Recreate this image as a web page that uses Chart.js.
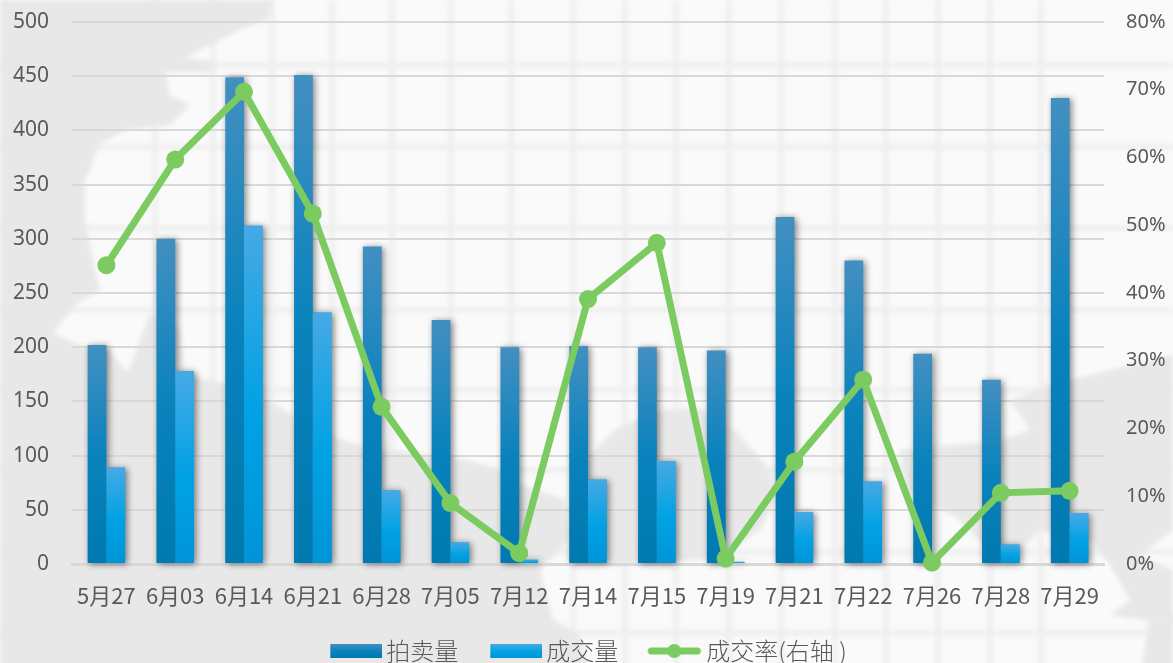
<!DOCTYPE html>
<html lang="zh">
<head>
<meta charset="utf-8">
<title>拍卖量与成交率</title>
<script src="https://cdn.jsdelivr.net/npm/chart.js@4"></script>
<style>
html,body{margin:0;padding:0;background:#e8e8e8;overflow:hidden}
#wrap{width:1173px;height:663px;overflow:hidden;position:relative}
canvas{display:block}
</style>
</head>
<body>
<div id="wrap"><canvas id="c" width="1173" height="673"></canvas></div>
<script>
const categories = ['5月27','6月03','6月14','6月21','6月28','7月05','7月12','7月14','7月15','7月19','7月21','7月22','7月26','7月28','7月29'];
const auctionCount = [202,300,449,451,293,225,200,201,200,197,320,280,194,170,430];
const dealCount = [89,178,312,232,68,20,4,78,95,2,48,76,0,18,47];
const dealRate = [44.1,59.7,69.7,51.7,23.2,9.0,1.6,39.1,47.4,0.8,15.1,27.2,0.2,10.5,10.8];
const seriesNames = ['拍卖量','成交量','成交率(右轴 )'];
const leftTicks = [0,50,100,150,200,250,300,350,400,450,500];
const rightTicks = [0,10,20,30,40,50,60,70,80];

const GREEN = '#7bcb61';
const TEXT = '#595959';
const DARK_STOPS = [[0,'#438fc1'],[0.5,'#0a83bd'],[1,'#0079b0']];
const LIGHT_STOPS = [[0,'#46a9e5'],[0.55,'#00a2e4'],[1,'#0094d8']];

function fillGrad(g, stops){ stops.forEach(s => g.addColorStop(s[0], s[1])); return g; }
function barFill(stops){
  return function(ctx){
    if (ctx.raw === undefined || !ctx.chart.scales.y) return stops[1][1];
    const s = ctx.chart.scales.y;
    const g = ctx.chart.ctx.createLinearGradient(0, s.getPixelForValue(ctx.raw), 0, s.getPixelForValue(0));
    return fillGrad(g, stops);
  };
}
function swatch(draw){
  const cv = document.createElement('canvas');
  cv.width = 82; cv.height = 20;
  draw(cv.getContext('2d'));
  return cv;
}
function rectSwatch(stops){
  return swatch(c => {
    c.fillStyle = fillGrad(c.createLinearGradient(0,3,0,17), stops);
    c.fillRect(30,3,52,14);
  });
}
const lineSwatch = swatch(c => {
  c.strokeStyle = GREEN; c.lineWidth = 7; c.lineCap = 'round';
  c.beginPath(); c.moveTo(31,10); c.lineTo(77,10); c.stroke();
  c.fillStyle = GREEN; c.beginPath(); c.arc(54,10,7,0,Math.PI*2); c.fill();
});

const backdrop = {
  id:'backdrop',
  beforeDraw(chart){
    const c = chart.ctx, W = chart.width, H = chart.height;
    c.save();
    c.fillStyle = '#fafafa'; c.fillRect(0,0,W,H);
    c.filter = 'blur(2px)';
    c.strokeStyle = '#efefef'; c.lineWidth = 5;
    [155,213,272,332,392,451,511,573,625,676,729,781,835,886,938,990,1041].forEach(x => {
      c.beginPath(); c.moveTo(x,0); c.lineTo(x,H); c.stroke();
    });
    [65,147,228,310,390,470,552,633].forEach(y => {
      c.beginPath(); c.moveTo(0,y); c.lineTo(W,y); c.stroke();
    });
    c.fillStyle = '#e8e8e8';
    const shapes = [
      [[0,0],[272,0],[268,20],[240,30],[200,50],[185,58],[215,62],[210,72],[165,72],[170,95],[190,105],[170,125],[125,130],[98,145],[92,165],[85,180],[85,220],[95,270],[100,290],[75,305],[53,333],[80,345],[110,350],[125,370],[130,367],[150,313],[180,330],[185,375],[240,387],[290,413],[333,437],[367,447],[417,453],[467,460],[500,470],[523,485],[565,500],[570,540],[540,570],[553,620],[580,635],[590,676],[0,676]],
      [[575,470],[590,455],[615,430],[660,410],[700,408],[735,430],[770,470],[775,500],[760,530],[720,558],[620,565],[570,560]],
      [[1173,355],[1110,370],[1050,385],[1010,400],[1030,430],[1000,440],[950,445],[900,450],[905,490],[960,520],[985,547],[1010,560],[1040,530],[1090,540],[1110,565],[1130,600],[1110,615],[1173,625],[1173,570],[1140,555],[1173,530]],
      [[1150,615],[1173,612],[1173,676],[1140,676]]
    ];
    shapes.forEach(p => {
      c.beginPath();
      p.forEach((pt,i) => i ? c.lineTo(pt[0],pt[1]) : c.moveTo(pt[0],pt[1]));
      c.closePath(); c.fill();
    });
    c.restore();
  },
  afterLayout(chart){
    chart.legend.left -= 9;
    chart.legend.right -= 9;
  }
};
const barShadow = {
  id:'barShadow',
  beforeDatasetDraw(chart, args){
    if (chart.data.datasets[args.index].type !== 'bar') return;
    const c = chart.ctx;
    c.save();
    c.shadowColor = 'rgba(0,0,0,0.5)'; c.shadowBlur = 7; c.shadowOffsetX = 2; c.shadowOffsetY = 1;
  },
  afterDatasetDraw(chart, args){
    if (chart.data.datasets[args.index].type !== 'bar') return;
    const c = chart.ctx;
    c.restore();
    if (args.index === 0) {
      chart.getDatasetMeta(1).data.forEach(el => el.draw(c));
    }
  }
};

function fixVerticalAxis(width){
  return function(s){
    s.width = width;
    s.paddingTop = 22;
    s.paddingBottom = 0;
  };
}

new Chart(document.getElementById('c'), {
  data:{
    labels:categories,
    datasets:[
      {type:'bar',label:seriesNames[0],data:auctionCount,yAxisID:'y',order:1,backgroundColor:barFill(DARK_STOPS),barPercentage:1,categoryPercentage:0.545,clip:false},
      {type:'bar',label:seriesNames[1],data:dealCount,yAxisID:'y',order:1,backgroundColor:barFill(LIGHT_STOPS),barPercentage:1,categoryPercentage:0.545,clip:false},
      {type:'line',label:seriesNames[2],data:dealRate,yAxisID:'y1',order:0,borderColor:GREEN,backgroundColor:GREEN,borderWidth:7,pointRadius:9,pointBackgroundColor:GREEN,pointBorderWidth:0,tension:0,clip:false}
    ]
  },
  options:{
    responsive:false,
    animation:false,
    layout:{padding:0},
    plugins:{
      tooltip:{enabled:false},
      legend:{
        position:'bottom',
        labels:{
          usePointStyle:true,
          pointStyleWidth:66,
          padding:10,
          color:TEXT,
          font:{family:'"Noto Sans CJK SC"',size:24,weight:'300'},
          generateLabels(){
            const styles = [rectSwatch(DARK_STOPS),rectSwatch(LIGHT_STOPS),lineSwatch];
            return seriesNames.map((n,i) => ({text:n,pointStyle:styles[i],fontColor:TEXT,lineWidth:0,datasetIndex:i}));
          }
        }
      }
    },
    scales:{
      x:{
        grid:{display:false},
        border:{color:'#d9d9d9',width:3},
        afterFit(s){ s.height = 65; },
        ticks:{color:TEXT,font:{family:'"Noto Sans CJK SC"',size:22,weight:'400'},padding:10,maxRotation:0,autoSkip:false}
      },
      y:{
        position:'left',min:0,max:500,
        afterBuildTicks(s){ s.ticks = leftTicks.map(v => ({value:v})); },
        afterFit:fixVerticalAxis(72),
        border:{display:false},
        grid:{color:'#d9d9d9',lineWidth:2,drawTicks:false},
        ticks:{color:TEXT,font:{family:'"Noto Sans"',size:21},padding:23}
      },
      y1:{
        position:'right',min:0,max:80,
        afterBuildTicks(s){ s.ticks = rightTicks.map(v => ({value:v})); },
        afterFit:fixVerticalAxis(69),
        border:{display:false},
        grid:{display:false,drawTicks:false},
        ticks:{color:TEXT,font:{family:'"Noto Sans"',size:20},padding:22,callback:v => v + '%'}
      }
    }
  },
  plugins:[backdrop,barShadow]
});
</script>
</body>
</html>
